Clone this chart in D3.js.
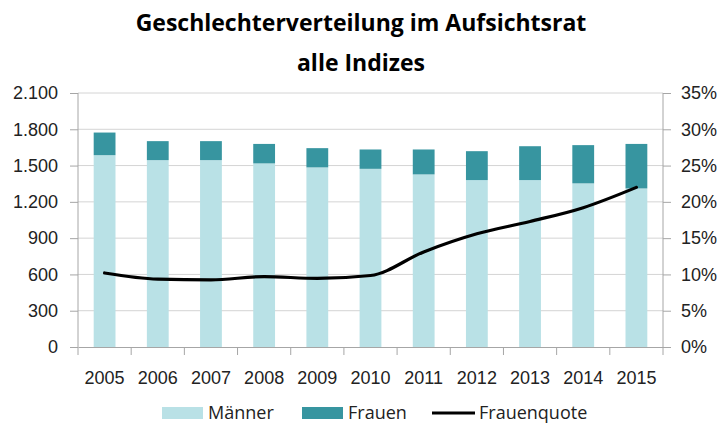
<!DOCTYPE html>
<html>
<head>
<meta charset="utf-8">
<script src="https://cdn.jsdelivr.net/npm/d3@7"></script>
<style>
  body { margin: 0; background: #fff; }
  svg { font-family: "Open Sans", "DejaVu Sans", sans-serif; }
</style>
</head>
<body>
<div id="chart"></div>
<script>
const years = ["2005", "2006", "2007", "2008", "2009", "2010", "2011", "2012", "2013", "2014", "2015"];
const maenner = [1586, 1545, 1545, 1518, 1485, 1473, 1427, 1380, 1380, 1353, 1311];
const frauen = [187, 157, 157, 161, 159, 160, 206, 239, 280, 316, 368];
const quote = [10.2, 9.35, 9.25, 9.7, 9.45, 9.85, 13.1, 15.6, 17.3, 19.2, 22.0];
const leftTicks = [0, 300, 600, 900, 1200, 1500, 1800, 2100];
const rightTicks = [0, 5, 10, 15, 20, 25, 30, 35];

const width = 721, height = 434;
const margin = { top: 93, right: 58, bottom: 87, left: 78 };

const svg = d3.select("#chart").append("svg")
  .attr("width", width)
  .attr("height", height);

const x = d3.scaleBand().domain(years).range([margin.left, width - margin.right]).paddingInner(0.59).paddingOuter(0.295);
const xb = d3.scaleBand().domain(years).range([margin.left, width - margin.right]);
const y = d3.scaleLinear().domain([0, 2100]).range([height - margin.bottom, margin.top]);
const y2 = d3.scaleLinear().domain([0, 35]).range([height - margin.bottom, margin.top]);

// gridlines
svg.append("g")
  .selectAll("line")
  .data(leftTicks.slice(1))
  .join("line")
    .attr("x1", margin.left)
    .attr("x2", width - margin.right)
    .attr("y1", d => y(d))
    .attr("y2", d => y(d))
    .style("stroke", "#d4d4d4")
    .style("stroke-width", 1);

// bars
const stacked = years.map((yr, i) => ({ year: yr, m: maenner[i], f: frauen[i] }));
svg.append("g").selectAll("rect")
  .data(stacked)
  .join("rect")
    .attr("x", d => x(d.year))
    .attr("width", x.bandwidth())
    .attr("y", d => y(d.m))
    .attr("height", d => y(0) - y(d.m))
    .attr("fill", "#b9e1e6");
svg.append("g").selectAll("rect")
  .data(stacked)
  .join("rect")
    .attr("x", d => x(d.year))
    .attr("width", x.bandwidth())
    .attr("y", d => y(d.m + d.f))
    .attr("height", d => y(d.m) - y(d.m + d.f))
    .attr("fill", "#3795a0");

// axes lines
const axisColor = "#a6a6a6";
svg.append("line")
  .attr("x1", margin.left).attr("x2", margin.left)
  .attr("y1", margin.top).attr("y2", y(0))
  .style("stroke", axisColor);
svg.append("line")
  .attr("x1", width - margin.right).attr("x2", width - margin.right)
  .attr("y1", margin.top).attr("y2", y(0))
  .style("stroke", axisColor);

const xAxis = svg.append("g")
  .attr("transform", `translate(0,${y(0)})`)
  .call(d3.axisBottom(xb).tickSize(0).tickPadding(24));
xAxis.select(".domain").style("stroke", axisColor);
xAxis.selectAll("text").style("font-size", "18px").style("fill", "#222");
svg.append("g").selectAll("line")
  .data(years.concat(["end"]))
  .join("line")
    .attr("x1", (d, i) => i < years.length ? xb(d) : xb(years[years.length - 1]) + xb.bandwidth())
    .attr("x2", (d, i) => i < years.length ? xb(d) : xb(years[years.length - 1]) + xb.bandwidth())
    .attr("y1", y(0))
    .attr("y2", y(0) + 8)
    .style("stroke", axisColor);

// left ticks
const yAxis = svg.append("g")
  .attr("transform", `translate(${margin.left},0)`)
  .call(d3.axisLeft(y).tickValues(leftTicks).tickSize(8).tickPadding(12)
    .tickFormat(d => d3.format(",")(d).replace(",", ".")));
yAxis.select(".domain").remove();
yAxis.selectAll(".tick line").style("stroke", axisColor);
yAxis.selectAll("text").style("font-size", "18px").style("fill", "#222");

const y2Axis = svg.append("g")
  .attr("transform", `translate(${width - margin.right},0)`)
  .call(d3.axisRight(y2).tickValues(rightTicks).tickSize(8).tickPadding(10)
    .tickFormat(d => d + "%"));
y2Axis.select(".domain").remove();
y2Axis.selectAll(".tick line").style("stroke", axisColor);
y2Axis.selectAll("text").style("font-size", "18px").style("fill", "#222");

// line
const line = d3.line()
  .x((d, i) => xb(years[i]) + xb.bandwidth() / 2)
  .y(d => y2(d))
  .curve(d3.curveMonotoneX);
svg.append("path")
  .datum(quote)
  .attr("d", line)
  .attr("fill", "none")
  .attr("stroke", "#000")
  .attr("stroke-width", 3.2)
  .attr("stroke-linecap", "round");

// title
svg.append("text")
  .attr("x", 361).attr("y", 31)
  .attr("text-anchor", "middle")
  .style("font-size", "23px").style("font-weight", "bold")
  .text("Geschlechterverteilung im Aufsichtsrat");
svg.append("text")
  .attr("x", 361).attr("y", 71)
  .attr("text-anchor", "middle")
  .style("font-size", "23px").style("font-weight", "bold")
  .text("alle Indizes");

// legend
const legend = svg.append("g").attr("transform", "translate(0,413)");
const items = [
  { label: "Männer", color: "#b9e1e6", type: "rect", x: 162 },
  { label: "Frauen", color: "#3795a0", type: "rect", x: 302 },
  { label: "Frauenquote", color: "#000", type: "line", x: 432 }
];
items.forEach(it => {
  if (it.type === "rect") {
    legend.append("rect").attr("x", it.x).attr("y", -6).attr("width", 41).attr("height", 12).attr("fill", it.color);
  } else {
    legend.append("line").attr("x1", it.x).attr("x2", it.x + 43).attr("y1", 0).attr("y2", 0)
      .attr("stroke", it.color).attr("stroke-width", 3);
  }
  legend.append("text")
    .attr("x", it.x + (it.type === "rect" ? 46 : 47))
    .attr("y", 6)
    .style("font-size", "18px").style("fill", "#222")
    .text(it.label);
});
</script>
</body>
</html>
